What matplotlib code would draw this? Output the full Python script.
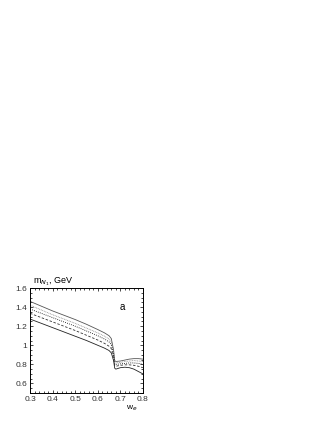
import matplotlib
matplotlib.use("Agg")
import matplotlib.pyplot as plt
from matplotlib.ticker import MultipleLocator

plt.rcParams["font.family"] = ["Liberation Sans", "DejaVu Sans"]

# w_e grid shared by all curves
w_e = [0.30, 0.35, 0.40, 0.45, 0.50, 0.55, 0.60, 0.63, 0.65, 0.66, 0.67, 0.675,
       0.68, 0.70, 0.72, 0.74, 0.76, 0.78, 0.80]

m_top = [1.46, 1.41, 1.36, 1.315, 1.27, 1.22, 1.165, 1.13, 1.10, 1.07, 0.95, 0.84,
         0.83, 0.835, 0.845, 0.855, 0.86, 0.86, 0.855]
m_dot_gray = [1.42, 1.37, 1.32, 1.275, 1.23, 1.18, 1.13, 1.095, 1.065, 1.04, 0.93, 0.82,
              0.815, 0.82, 0.83, 0.835, 0.84, 0.835, 0.83]
m_dot = [1.38, 1.335, 1.29, 1.245, 1.20, 1.15, 1.10, 1.065, 1.035, 1.01, 0.90, 0.80,
         0.80, 0.805, 0.81, 0.815, 0.815, 0.81, 0.80]
m_dash = [1.335, 1.29, 1.245, 1.20, 1.155, 1.105, 1.055, 1.02, 0.99, 0.965, 0.87, 0.785,
          0.78, 0.79, 0.795, 0.795, 0.79, 0.78, 0.765]
m_bottom = [1.275, 1.23, 1.185, 1.14, 1.095, 1.05, 1.00, 0.97, 0.945, 0.92, 0.84, 0.76,
            0.75, 0.765, 0.77, 0.765, 0.75, 0.725, 0.70]

fig = plt.figure(figsize=(3.27, 4.23), dpi=100)
ax = fig.add_axes([0.092, 0.071, 0.345, 0.248])

lw = 0.6
ax.plot(w_e, m_top, color="#555555", lw=lw, ls="-")
ax.plot(w_e, m_dot_gray, color="#888888", lw=lw, ls=(0, (1, 1)))
ax.plot(w_e, m_dot, color="black", lw=lw, ls=(0, (1, 1.5)))
ax.plot(w_e, m_dash, color="#333333", lw=lw, ls=(0, (3, 2)))
ax.plot(w_e, m_bottom, color="#222222", lw=lw, ls="-")

ax.set_xlim(0.3, 0.8)
ax.set_ylim(0.5, 1.6)
ax.set_xticks([0.3, 0.4, 0.5, 0.6, 0.7, 0.8])
ax.set_xticklabels(["0.3", "0.4", "0.5", "0.6", "0.7", "0.8"])
ax.set_yticks([0.6, 0.8, 1.0, 1.2, 1.4, 1.6])
ax.set_yticklabels(["0.6", "0.8", "1", "1.2", "1.4", "1.6"])
ax.xaxis.set_minor_locator(MultipleLocator(0.02))
ax.yaxis.set_minor_locator(MultipleLocator(0.05))
ax.tick_params(which="both", direction="in", top=True, right=True,
               labelsize=6, width=0.5, pad=2, labelcolor="#333333")
ax.tick_params(which="major", length=2.5)
ax.tick_params(which="minor", length=1.2)
for s in ax.spines.values():
    s.set_linewidth(0.7)

ax.text(0.315, 1.605, "m$_{N_1}$, GeV", fontsize=6.5, ha="left", va="bottom")
ax.text(0.71, 1.40, "a", fontsize=7, ha="center", va="center")
ax.text(0.75, 0.34, "w$_e$", fontsize=6, ha="center", va="center")

plt.savefig("out.png", dpi=100)
